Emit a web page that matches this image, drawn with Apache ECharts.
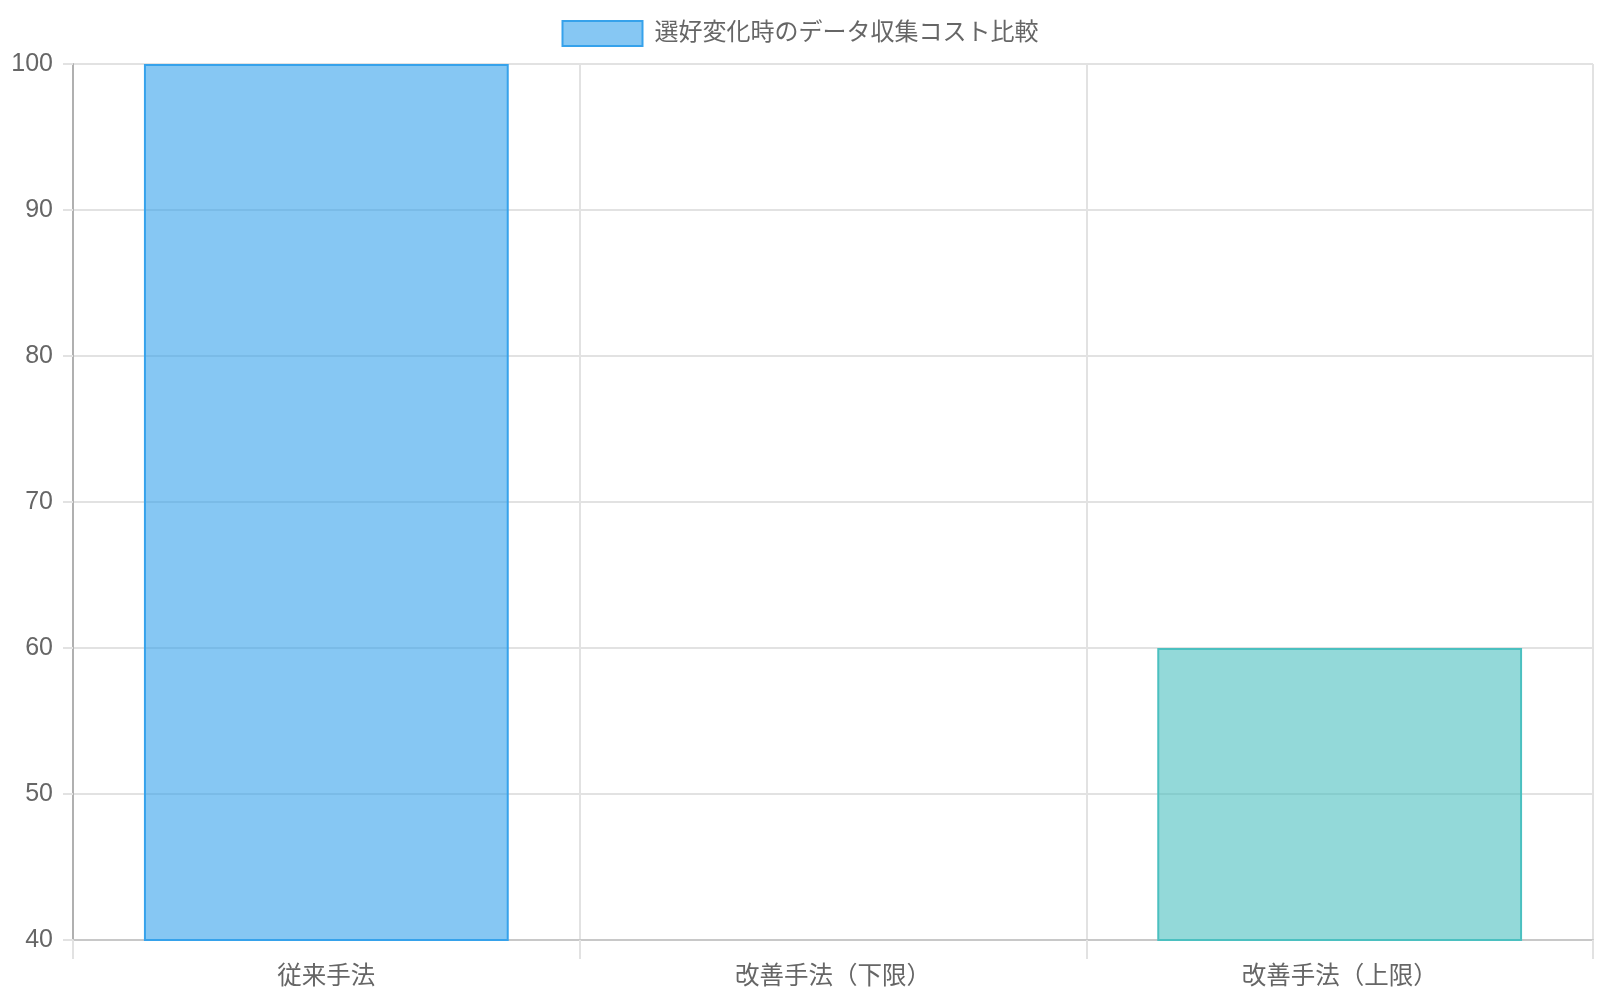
<!DOCTYPE html>
<html>
<head>
<meta charset="utf-8">
<script src="https://cdn.jsdelivr.net/npm/echarts@6/dist/echarts.min.js"></script>
<style>
  html, body { margin: 0; padding: 0; background: #ffffff; }
  #chart { width: 1600px; height: 1000px; }
</style>
</head>
<body>
<div id="chart"></div>
<script>
const seriesName = '選好変化時のデータ収集コスト比較';
const categories = ['従来手法', '改善手法（下限）', '改善手法（上限）'];
const values = [100, 30, 60];
const fillColors = ['rgba(54,162,235,0.6)', 'rgba(255,99,132,0.6)', 'rgba(75,192,192,0.6)'];
const borderColors = ['#36a2eb', '#ff6384', '#4bc0c0'];

const fontFamily = "'Liberation Sans', 'Noto Sans CJK JP', sans-serif";

const myChart = echarts.init(document.getElementById('chart'));

const barData = values.map(function (v, i) {
    return {
        value: v,
        itemStyle: {
            color: fillColors[i],
            borderColor: borderColors[i],
            borderWidth: 2
        }
    };
});

const option = {
    backgroundColor: '#ffffff',
    animation: false,
    legend: {
        top: 15,
        left: 'center',
        itemWidth: 80,
        itemHeight: 25,
        icon: 'rect',
        textStyle: {
            color: '#666',
            fontSize: 24,
            fontFamily: fontFamily,
            padding: [0, 0, 0, 7]
        },
        data: [seriesName]
    },
    grid: {
        left: 73,
        right: 7,
        top: 64,
        bottom: 60
    },
    xAxis: {
        type: 'category',
        data: categories,
        boundaryGap: true,
        axisLine: { lineStyle: { color: '#c8c8c8', width: 2 } },
        axisTick: {
            show: true,
            length: 19,
            lineStyle: { color: '#e2e2e2', width: 2 }
        },
        splitLine: {
            show: true,
            lineStyle: { color: '#e2e2e2', width: 2 }
        },
        axisLabel: {
            color: '#666',
            fontSize: 24.5,
            fontFamily: fontFamily,
            margin: 25
        }
    },
    yAxis: {
        type: 'value',
        min: 40,
        max: 100,
        interval: 10,
        axisLine: { show: true, lineStyle: { color: '#b0b0b0', width: 2 } },
        axisTick: {
            show: true,
            length: 10,
            lineStyle: { color: '#e2e2e2', width: 2 }
        },
        splitLine: {
            show: true,
            lineStyle: { color: '#e2e2e2', width: 2 }
        },
        axisLabel: {
            color: '#666',
            fontSize: 25,
            fontFamily: fontFamily,
            margin: 20
        }
    },
    series: [
        {
            name: seriesName,
            type: 'bar',
            barWidth: '72%',
            clip: true,
            itemStyle: {
                color: fillColors[0],
                borderColor: borderColors[0],
                borderWidth: 2
            },
            data: barData
        }
    ]
};

myChart.setOption(option);
window.onresize = myChart.resize;
</script>
</body>
</html>
